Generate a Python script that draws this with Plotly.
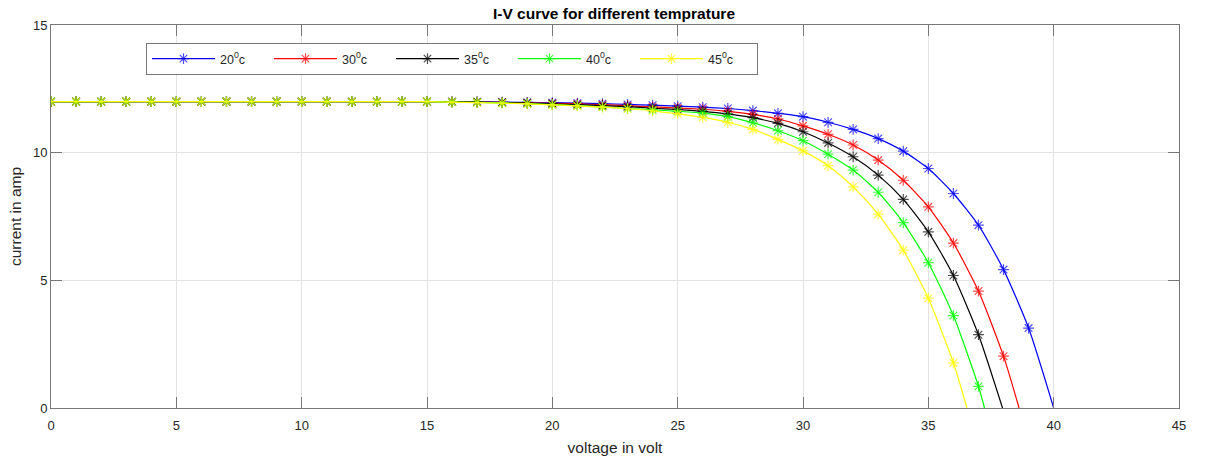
import plotly.graph_objects as go

# ---- data ----
v_20 = list(range(0, 41))
i_20 = [12.00]*16 + [11.99, 11.99, 11.98, 11.97, 11.96, 11.94, 11.92, 11.89, 11.86, 11.82,
                     11.78, 11.73, 11.65, 11.54, 11.41, 11.19, 10.91, 10.55, 10.06, 9.38,
                     8.40, 7.16, 5.42, 3.13, 0.00]

v_30 = list(range(0, 39)) + [38.62]
i_30 = [12.00]*16 + [11.99, 11.98, 11.97, 11.95, 11.93, 11.91, 11.88, 11.84, 11.79, 11.75,
                     11.70, 11.62, 11.50, 11.32, 11.05, 10.72, 10.30, 9.71, 8.92, 7.88,
                     6.46, 4.58, 2.03, 0.00]

v_35 = list(range(0, 38)) + [37.96]
i_35 = [12.00]*16 + [11.99, 11.98, 11.96, 11.94, 11.91, 11.88, 11.84, 11.80, 11.74, 11.69,
                     11.62, 11.52, 11.37, 11.15, 10.82, 10.38, 9.84, 9.12, 8.17, 6.90,
                     5.19, 2.87, 0.00]

v_40 = list(range(0, 38)) + [37.24]
i_40 = [12.00]*16 + [11.98, 11.97, 11.95, 11.92, 11.88, 11.84, 11.79, 11.73, 11.68, 11.62,
                     11.55, 11.41, 11.17, 10.86, 10.47, 9.94, 9.32, 8.45, 7.26, 5.69,
                     3.62, 0.85, 0.00]

v_45 = list(range(0, 37)) + [36.54]
i_45 = [12.00]*16 + [11.98, 11.96, 11.94, 11.91, 11.87, 11.83, 11.78, 11.72, 11.64, 11.52,
                     11.38, 11.19, 10.91, 10.52, 10.07, 9.49, 8.66, 7.59, 6.18, 4.30,
                     1.77, 0.00]

series_names = ["20<sup>0</sup>c", "30<sup>0</sup>c", "35<sup>0</sup>c", "40<sup>0</sup>c", "45<sup>0</sup>c"]
series_x = [v_20, v_30, v_35, v_40, v_45]
series_y = [i_20, i_30, i_35, i_40, i_45]
colors = ["#0000ff", "#ff0000", "#000000", "#00ff00", "#ffff00"]

FONT = "Liberation Sans, Arial, Helvetica, sans-serif"
TXT = "#262626"
AX = "#777777"

fig = go.Figure()
for name, xs, ys, c in zip(series_names, series_x, series_y, colors):
    sizes = [9 if float(x).is_integer() and not (y == 0 and x == xs[-1]) else 0 for x, y in zip(xs, ys)]
    fig.add_trace(go.Scatter(
        x=xs, y=ys, name=name, mode="lines+markers",
        line=dict(color=c, width=1.2, shape="spline", smoothing=0.6),
        marker=dict(symbol="asterisk-open", size=sizes, color=c, line=dict(color=c, width=1.2)),
    ))

axis_common = dict(
    showgrid=True, gridcolor="#e3e3e3", gridwidth=1,
    showline=True, linecolor=AX, linewidth=1, mirror="ticks",
    ticks="inside", ticklen=11, tickcolor=AX, tickwidth=1,
    zeroline=False, automargin=False, tickfont=dict(family=FONT, size=13, color=TXT),
)

fig.update_layout(
    width=1206, height=459,
    margin=dict(l=51, r=27, t=25, b=51),
    paper_bgcolor="white", plot_bgcolor="white",
    font=dict(family=FONT, color=TXT),
    showlegend=True,
    legend=dict(orientation="h", x=(146 - 51) / 1128, y=(408 - 43) / 383, xanchor="left", yanchor="top",
                bordercolor=AX, borderwidth=1, bgcolor="white",
                font=dict(family=FONT, size=12.5, color=TXT),
                itemwidth=63, entrywidth=44, tracegroupgap=0),
    xaxis=dict(range=[0, 45], dtick=5, tick0=0, ticklabelstandoff=5,
               title=dict(text="voltage in volt", font=dict(family=FONT, size=15.5, color=TXT), standoff=10),
               **axis_common),
    yaxis=dict(range=[0, 15], dtick=5, tick0=0,
               title=dict(text="current in amp", font=dict(family=FONT, size=15.5, color=TXT), standoff=7),
               **axis_common),
)

fig.add_annotation(text="<b>I-V curve for different temprature</b>", xref="paper", yref="paper",
                   x=(614 - 51) / 1128, y=1, yanchor="bottom", xanchor="center", showarrow=False,
                   yshift=1, font=dict(family=FONT, size=15.5, color="#000000"))

fig.write_html("out.html")
